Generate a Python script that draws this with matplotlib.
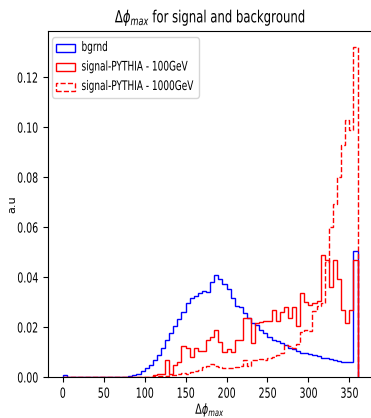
import matplotlib
matplotlib.use("Agg")
import matplotlib.pyplot as plt
import matplotlib.patheffects as pe
from matplotlib.patches import Rectangle, FancyBboxPatch
from matplotlib.transforms import Affine2D
import numpy as np

# bin edges 0..360, width 5
bin_edges = np.arange(0, 365, 5)
bin_left = bin_edges[:-1]

# normalised counts per bin
bgrnd = [0.0007] + [0.0] * 15 + [
    0.0002, 0.0006, 0.0012, 0.0022, 0.0035, 0.0050, 0.0068, 0.0090,   # 80-115
    0.0118, 0.0148, 0.0175, 0.0205, 0.0232, 0.0262, 0.0295, 0.0315,   # 120-155
    0.0325, 0.0335, 0.0345, 0.0342, 0.0382, 0.0408, 0.0392, 0.0372,   # 160-195
    0.0352, 0.0318, 0.0283, 0.0282, 0.0258, 0.0238, 0.0218, 0.0208,   # 200-235
    0.0190, 0.0175, 0.0160, 0.0148, 0.0143, 0.0137, 0.0127, 0.0118,   # 240-275
    0.0112, 0.0105, 0.0097, 0.0095, 0.0092, 0.0090, 0.0085, 0.0078,   # 280-315
    0.0075, 0.0072, 0.0070, 0.0065, 0.0060, 0.0060, 0.0062, 0.0504]  # 320-355

sig100 = [0.0] * 22 + [
    0.0008, 0.0010, 0.0010, 0.0068, 0.0010, 0.0048, 0.0060, 0.0124,   # 110-145
    0.0115, 0.0079, 0.0115, 0.0105, 0.0105, 0.0150, 0.0160, 0.0190,   # 150-185
    0.0140, 0.0101, 0.0112, 0.0101, 0.0148, 0.0148, 0.0235, 0.0235,   # 190-225
    0.0135, 0.0215, 0.0220, 0.0225, 0.0225, 0.0270, 0.0225, 0.0260,   # 230-265
    0.0281, 0.0235, 0.0281, 0.0204, 0.0337, 0.0300, 0.0288, 0.0297,   # 270-305
    0.0305, 0.0488, 0.0468, 0.0361, 0.0468, 0.0394, 0.0268, 0.0215,   # 310-345
    0.0268, 0.0468]                                                  # 350-355

sig1000 = [0.0] * 22 + [
    0.0003, 0.0004, 0.0003, 0.0005, 0.0006, 0.0008, 0.0012, 0.0014,   # 110-145
    0.0012, 0.0020, 0.0025, 0.0028, 0.0041, 0.0045, 0.0052, 0.0045,   # 150-185
    0.0038, 0.0035, 0.0035, 0.0037, 0.0040, 0.0042, 0.0068, 0.0042,   # 190-225
    0.0068, 0.0068, 0.0073, 0.0068, 0.0075, 0.0081, 0.0088, 0.0095,   # 230-265
    0.0128, 0.0124, 0.0115, 0.0134, 0.0180, 0.0190, 0.0185, 0.0265,   # 270-305
    0.0285, 0.0295, 0.0460, 0.0601, 0.0694, 0.0800, 0.0927, 0.1030,   # 310-345
    0.0990, 0.1320]                                                  # 350-355

labels = ['bgrnd', 'signal-PYTHIA - 100GeV', 'signal-PYTHIA - 1000GeV']
colors = ['blue', 'red', 'red']
styles = ['-', '-', '--']


class HSqueeze(pe.AbstractPathEffect):
    """Narrow the glyphs of a text along its baseline (the reference looks squashed)."""
    def __init__(self, sx=0.68, anchor='center'):
        super().__init__()
        self.sx = sx
        self.anchor = anchor

    def draw_path(self, renderer, gc, tpath, affine, rgbFace=None):
        ext = tpath.get_extents()
        if self.anchor == 'left':
            cx = 0.0
        elif self.anchor == 'right':
            cx = ext.x1
        else:
            cx = 0.5 * (ext.x0 + ext.x1)
        pre = Affine2D().translate(-cx, 0).scale(self.sx, 1.0).translate(cx, 0)
        renderer.draw_path(gc, tpath, pre + affine, rgbFace)


W, H = 371, 418
fig = plt.figure(figsize=(W / 100, H / 100), dpi=100)
ax = fig.add_axes([0.1294, 0.0981, 0.874, 0.8285])

series = [bgrnd, sig100, sig1000]
for vals, c, ls in zip(series, colors, styles):
    ax.hist(bin_left, bins=bin_edges, weights=vals, histtype='step',
            color=c, linestyle=ls, linewidth=1.0)

ax.set_xticks([0, 50, 100, 150, 200, 250, 300, 350])
ax.set_yticks([0.00, 0.02, 0.04, 0.06, 0.08, 0.10, 0.12])
ax.set_yticklabels(['0.00', '0.02', '0.04', '0.06', '0.08', '0.10', '0.12'])
ax.set_xticklabels(['0', '50', '100', '150', '200', '250', '300', '350'])
ax.tick_params(labelsize=10)
for t in ax.get_xticklabels():
    t.set_path_effects([HSqueeze(0.68, 'center')])
for t in ax.get_yticklabels():
    t.set_path_effects([HSqueeze(0.68, 'right')])

ttl = ax.set_title(r'$\Delta\phi_{max}$ for signal and background', fontsize=12)
ttl.set_path_effects([HSqueeze(0.7, 'center')])
xl = ax.set_xlabel(r'$\Delta\phi_{max}$', fontsize=10, labelpad=0)
xl.set_path_effects([HSqueeze(0.7, 'center')])
ax.set_ylabel('a.u', fontsize=8)
ax.yaxis.set_label_coords(-0.095, 0.5)


# legend drawn by hand so the frame fits the narrowed text
def fx(px):
    return px / W


def fy(py):
    return 1 - py / H


frame = FancyBboxPatch((fx(52.5), fy(98.5)), fx(199.5) - fx(52.5), fy(37.5) - fy(98.5),
                       boxstyle='round,pad=0,rounding_size=0.008',
                       transform=fig.transFigure, facecolor='white',
                       edgecolor='0.8', linewidth=1.0, alpha=0.8, zorder=5)
fig.add_artist(frame)
rows = [47.5, 67.0, 86.5]
for lab, c, ls, yc in zip(labels, colors, styles, rows):
    fig.add_artist(Rectangle((fx(56.0), fy(yc + 4.0)), fx(74.5) - fx(56.0), fy(yc - 4.0) - fy(yc + 4.0),
                             transform=fig.transFigure, facecolor='none',
                             edgecolor=c, linestyle=ls, linewidth=1.0, zorder=6))
    txt = fig.text(fx(81.5), fy(yc), lab, fontsize=9.5, ha='left', va='center', zorder=6)
    txt.set_path_effects([HSqueeze(0.68, 'left')])

fig.savefig('out.png', dpi=100)
